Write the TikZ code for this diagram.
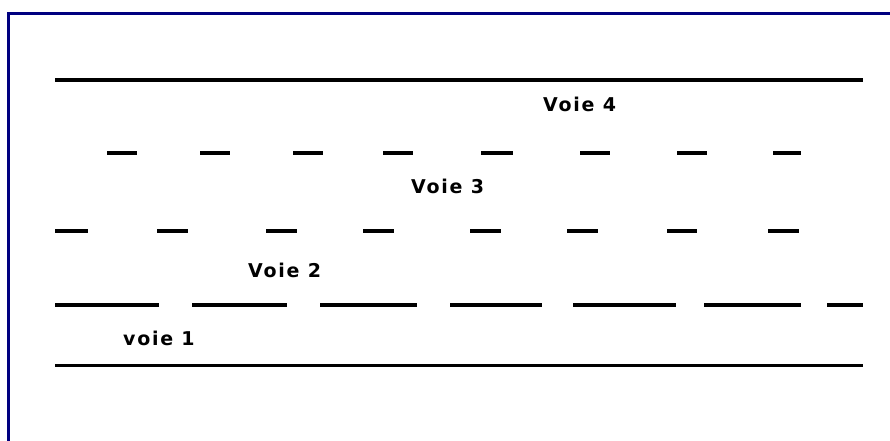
\documentclass[tikz,border=0pt]{standalone}
\usepackage{fontspec}
\setmainfont{DejaVu Sans}
\definecolor{navyb}{RGB}{0,0,128}
\begin{document}
\begin{tikzpicture}[x=1pt,y=-1pt,
  lane/.style={line width=3.7pt,black},
  lbl/.style={font=\bfseries\fontsize{19}{19}\selectfont\addfontfeatures{LetterSpace=9}, anchor=base west, inner sep=0pt}]
\useasboundingbox (0,0) rectangle (890,440);
\fill[white] (0,0) rectangle (890,440);
\draw[line width=2.8pt, navyb] (8.6,442) -- (8.6,13.8) -- (892,13.8);
% edges
\draw[lane] (55,80.3) -- (863,80.3);
\draw[lane] (55,365.5) -- (863,365.5);
% separator 3/4
\foreach \a/\b in {107/137,200/230,293/323,383/413,481/513,580/610,677/707,773/801}
  \draw[lane] (\a,153.3) -- (\b,153.3);
% separator 2/3
\foreach \a/\b in {55/88,157/188,266/297,363/394,470/501,567/598,667/697,768/799}
  \draw[lane] (\a,231) -- (\b,231);
% separator 1/2
\foreach \a/\b in {55/159,192/287,320/417,450/542,573/676,704/801,827/863}
  \draw[lane] (\a,305) -- (\b,305);
% labels
\node[lbl] (v4) at (543,111) {Voie 4};
\node[lbl] (v3) at (411,193) {Voie 3};
\node[lbl] (v2) at (248,277) {Voie 2};
\node[lbl] (v1) at (123,345) {voie 1};
\end{tikzpicture}
\end{document}
